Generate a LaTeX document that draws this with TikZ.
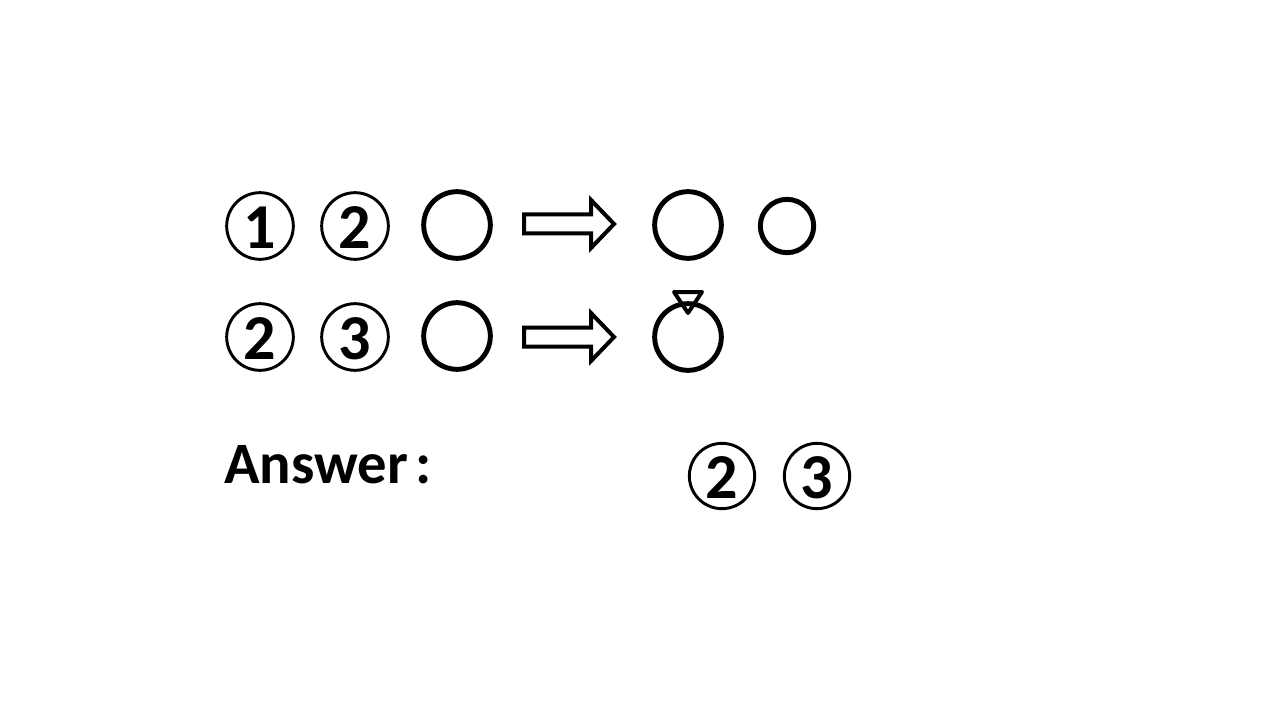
\documentclass[tikz,border=0pt]{standalone}
\usepackage{fontspec}
\setmainfont{Carlito}
\begin{document}
\begin{tikzpicture}[x=0.75pt,y=-0.75pt,
  cnum/.style={circle,draw,line width=2.2pt,minimum size=50pt,inner sep=0pt,
    text height=34pt,text depth=0pt,font=\fontsize{48}{48}\selectfont\bfseries},
  plain/.style={circle,draw,line width=3.7pt,minimum size=50pt,inner sep=0pt},
  blkarrow/.pic={\draw[line width=3pt,line join=miter,fill=white]
     (-45,-9.5) -- (22,-9.5) -- (22,-24) -- (45,0) -- (22,24) -- (22,9.5) -- (-45,9.5) -- cycle;}]
\useasboundingbox (0,0) rectangle (1280,720);
% row 1
\node[cnum] (c11) at (260,226) {1};
\node[cnum] (c12) at (355,226) {2};
\node[plain] (p1) at (457,225) {};
\pic at (569,224) {blkarrow};
\node[plain] (r11) at (688,225) {};
\node[plain,minimum size=40pt] (r12) at (787,226) {};
% row 2
\node[cnum] (c21) at (260,337) {2};
\node[cnum] (c22) at (355,337) {3};
\node[plain] (p2) at (457,336) {};
\pic at (569,337) {blkarrow};
\node[plain] (ring) at (688,337) {};
\draw[line width=3pt,line join=round] (674,292) -- (702,292) -- (688,313) -- cycle;
% answer
\node[anchor=base west,inner sep=0pt,font=\fontsize{44}{44}\selectfont\bfseries] (ans) at (224,483) {Answer\hspace{0.13em}:};
\node[cnum,minimum size=49pt] (a1) at (722,476) {2};
\node[cnum,minimum size=49pt] (a2) at (817,476) {3};
\end{tikzpicture}
\end{document}
